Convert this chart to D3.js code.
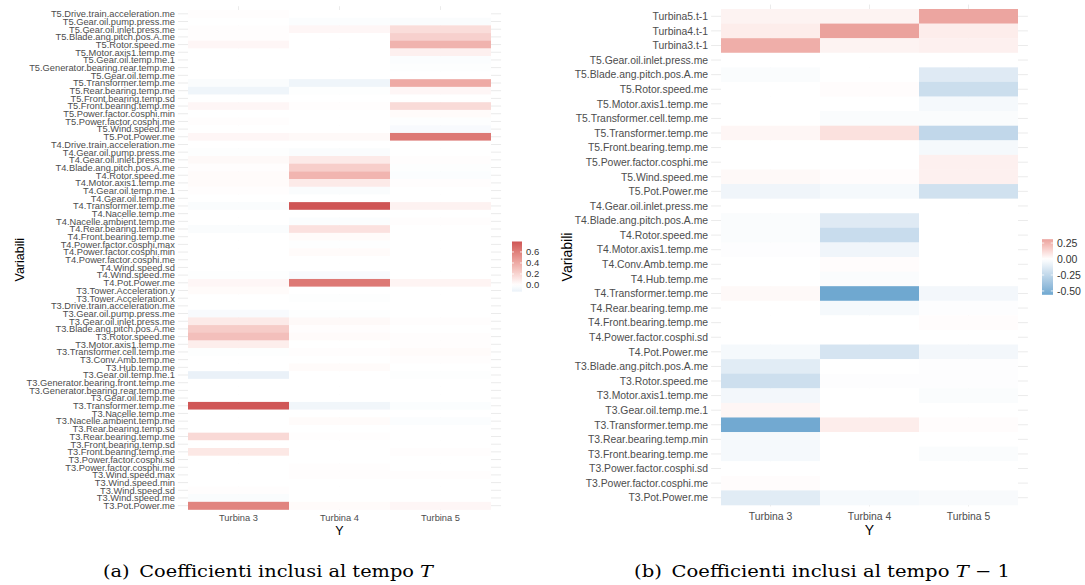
<!DOCTYPE html>
<html>
<head>
<meta charset="utf-8">
<script src="https://cdn.jsdelivr.net/npm/d3@7"></script>
<style>
  html, body { margin: 0; padding: 0; background: #ffffff; }
  svg { display: block; }
</style>
</head>
<body>
<svg id="chart" width="1085" height="585"></svg>
<script>
// Column categories (response turbines)
const turbines = ["Turbina 3", "Turbina 4", "Turbina 5"];

// ---- Panel (a): coefficients at time T ----
const varsT = [
  "T5.Drive.train.acceleration.me", "T5.Gear.oil.pump.press.me", "T5.Gear.oil.inlet.press.me",
  "T5.Blade.ang.pitch.pos.A.me", "T5.Rotor.speed.me", "T5.Motor.axis1.temp.me",
  "T5.Gear.oil.temp.me.1", "T5.Generator.bearing.rear.temp.me", "T5.Gear.oil.temp.me",
  "T5.Transformer.temp.me", "T5.Rear.bearing.temp.me", "T5.Front.bearing.temp.sd",
  "T5.Front.bearing.temp.me", "T5.Power.factor.cosphi.min", "T5.Power.factor.cosphi.me",
  "T5.Wind.speed.me", "T5.Pot.Power.me",
  "T4.Drive.train.acceleration.me", "T4.Gear.oil.pump.press.me", "T4.Gear.oil.inlet.press.me",
  "T4.Blade.ang.pitch.pos.A.me", "T4.Rotor.speed.me", "T4.Motor.axis1.temp.me",
  "T4.Gear.oil.temp.me.1", "T4.Gear.oil.temp.me", "T4.Transformer.temp.me",
  "T4.Nacelle.temp.me", "T4.Nacelle.ambient.temp.me", "T4.Rear.bearing.temp.me",
  "T4.Front.bearing.temp.me", "T4.Power.factor.cosphi.max", "T4.Power.factor.cosphi.min",
  "T4.Power.factor.cosphi.me", "T4.Wind.speed.sd", "T4.Wind.speed.me", "T4.Pot.Power.me",
  "T3.Tower.Acceleration.y", "T3.Tower.Acceleration.x", "T3.Drive.train.acceleration.me",
  "T3.Gear.oil.pump.press.me", "T3.Gear.oil.inlet.press.me", "T3.Blade.ang.pitch.pos.A.me",
  "T3.Rotor.speed.me", "T3.Motor.axis1.temp.me", "T3.Transformer.cell.temp.me",
  "T3.Conv.Amb.temp.me", "T3.Hub.temp.me", "T3.Gear.oil.temp.me.1",
  "T3.Generator.bearing.front.temp.me", "T3.Generator.bearing.rear.temp.me", "T3.Gear.oil.temp.me",
  "T3.Transformer.temp.me", "T3.Nacelle.temp.me", "T3.Nacelle.ambient.temp.me",
  "T3.Rear.bearing.temp.sd", "T3.Rear.bearing.temp.me", "T3.Front.bearing.temp.sd",
  "T3.Front.bearing.temp.me", "T3.Power.factor.cosphi.sd", "T3.Power.factor.cosphi.me",
  "T3.Wind.speed.max", "T3.Wind.speed.min", "T3.Wind.speed.sd", "T3.Wind.speed.me",
  "T3.Pot.Power.me"
];
const turbina3T = [
  0.01, 0.00, 0.01, 0.01, 0.04, 0.00, 0.00, 0.00, 0.00, -0.03, -0.09, 0.00, 0.04, 0.00, 0.01, 0.00, 0.04,
  0.00, -0.01, 0.03, 0.01, 0.02, 0.02, 0.01, 0.00, -0.03, 0.00, 0.00, -0.03, 0.00, 0.00, 0.00, 0.00, 0.00, -0.01, 0.04,
  0.02, 0.00, 0.00, -0.04, 0.10, 0.24, 0.30, 0.08, -0.01, 0.00, 0.00, -0.12, 0.00, 0.00, 0.00,
  0.78, 0.00, 0.00, 0.00, 0.18, 0.00, 0.11, 0.00, 0.00, 0.00, 0.00, 0.01, -0.03, 0.58
];
const turbina4T = [
  0.00, -0.02, 0.04, 0.00, 0.00, 0.00, 0.00, 0.00, 0.00, -0.09, -0.01, 0.00, 0.01, 0.00, 0.00, 0.00, 0.03,
  0.00, -0.03, 0.10, 0.23, 0.35, 0.10, -0.03, 0.00, 0.79, 0.00, -0.02, 0.14, 0.02, -0.01, 0.02, 0.00, 0.00, -0.04, 0.63,
  0.00, -0.01, 0.00, -0.01, 0.03, 0.01, 0.02, 0.00, 0.01, 0.00, 0.02, 0.00, 0.00, 0.00, 0.00,
  -0.08, 0.00, 0.02, 0.00, 0.01, 0.00, 0.00, 0.00, 0.01, 0.01, 0.00, 0.00, 0.00, 0.02
];
const turbina5T = [
  0.00, -0.03, 0.16, 0.22, 0.36, 0.07, -0.02, -0.01, 0.00, 0.40, 0.04, 0.00, 0.17, 0.02, -0.01, -0.04, 0.63,
  0.00, 0.00, 0.01, -0.01, -0.02, 0.01, 0.00, 0.00, 0.06, 0.00, 0.01, 0.00, 0.00, 0.00, 0.00, 0.00, 0.00, 0.00, 0.05,
  0.00, 0.00, 0.00, 0.00, 0.01, 0.00, 0.01, 0.01, 0.02, 0.01, 0.00, -0.01, 0.00, 0.00, 0.00,
  -0.02, 0.00, -0.02, 0.00, 0.00, 0.00, 0.01, 0.00, 0.00, 0.01, 0.00, 0.00, 0.00, 0.04
];
const legendBreaksT = [0.0, 0.2, 0.4, 0.6];

// ---- Panel (b): coefficients at time T-1 ----
const varsT1 = [
  "Turbina5.t-1", "Turbina4.t-1", "Turbina3.t-1",
  "T5.Gear.oil.inlet.press.me", "T5.Blade.ang.pitch.pos.A.me", "T5.Rotor.speed.me",
  "T5.Motor.axis1.temp.me", "T5.Transformer.cell.temp.me", "T5.Transformer.temp.me",
  "T5.Front.bearing.temp.me", "T5.Power.factor.cosphi.me", "T5.Wind.speed.me", "T5.Pot.Power.me",
  "T4.Gear.oil.inlet.press.me", "T4.Blade.ang.pitch.pos.A.me", "T4.Rotor.speed.me",
  "T4.Motor.axis1.temp.me", "T4.Conv.Amb.temp.me", "T4.Hub.temp.me", "T4.Transformer.temp.me",
  "T4.Rear.bearing.temp.me", "T4.Front.bearing.temp.me", "T4.Power.factor.cosphi.sd", "T4.Pot.Power.me",
  "T3.Blade.ang.pitch.pos.A.me", "T3.Rotor.speed.me", "T3.Motor.axis1.temp.me", "T3.Gear.oil.temp.me.1",
  "T3.Transformer.temp.me", "T3.Rear.bearing.temp.min", "T3.Front.bearing.temp.me",
  "T3.Power.factor.cosphi.sd", "T3.Power.factor.cosphi.me", "T3.Pot.Power.me"
];
const turbina3T1 = [
  0.04, 0.06, 0.27, 0.00, -0.02, 0.00, 0.00, 0.00, 0.03, 0.00, 0.00, 0.02, -0.06,
  0.00, -0.02, -0.02, -0.01, 0.00, 0.00, 0.02, 0.00, 0.00, 0.00, -0.04,
  -0.12, -0.20, -0.05, 0.03, -0.55, -0.04, -0.04, 0.00, 0.01, -0.12
];
const turbina4T1 = [
  0.04, 0.31, 0.04, 0.00, 0.00, 0.01, 0.00, -0.02, 0.10, 0.00, 0.00, 0.01, -0.04,
  0.00, -0.13, -0.22, -0.06, 0.01, -0.02, -0.56, -0.04, 0.00, 0.00, -0.17,
  0.00, -0.01, 0.00, 0.00, 0.06, 0.00, 0.00, 0.00, 0.00, -0.04
];
const turbina5T1 = [
  0.30, 0.06, 0.05, 0.00, -0.13, -0.21, -0.04, -0.02, -0.25, -0.04, 0.05, 0.05, -0.19,
  0.00, 0.00, 0.00, 0.00, 0.00, 0.00, -0.05, -0.01, 0.01, 0.00, -0.05,
  -0.01, -0.01, -0.02, 0.00, 0.01, 0.00, -0.02, 0.00, 0.00, -0.03
];
const legendBreaksT1 = [0.25, 0.00, -0.25, -0.50];

// ---- Shared styling ----
const lowColour = "#6FA8D0";
const highColour = "#CF5555";
const gridColour = "#EBEBEB";
const axisTextColour = "#4D4D4D";
const sansFont = "'Liberation Sans', Arial, sans-serif";

const svg = d3.select("#chart");

function drawHeatmap(cfg) {
  const g = svg.append("g");
  const series = [cfg.t3, cfg.t4, cfg.t5];
  const cells = [];
  cfg.rows.forEach((r, i) => {
    turbines.forEach((t, j) => cells.push({ row: r, col: t, value: series[j][i] }));
  });

  const x = d3.scaleBand().domain(turbines).range([cfg.x0, cfg.x1]);
  const y = d3.scaleBand().domain(cfg.rows).range([cfg.y0, cfg.y1]);

  const vmin = d3.min(cells, d => d.value);
  const vmax = d3.max(cells, d => d.value);
  const m = Math.max(Math.abs(vmin), Math.abs(vmax));
  const colour = d3.scaleLinear()
    .domain([-m, 0, m])
    .range([lowColour, "#ffffff", highColour])
    .interpolate(d3.interpolateLab);

  // grid lines (extend slightly past the tiles, as the panel does)
  const ex = x.bandwidth() * 0.1, ey = y.bandwidth() * 0.1;
  g.append("g").selectAll("line.h").data(cfg.rows).join("line")
    .attr("x1", cfg.x0 - ex).attr("x2", cfg.x1 + ex)
    .attr("y1", d => y(d) + y.bandwidth() / 2).attr("y2", d => y(d) + y.bandwidth() / 2)
    .attr("stroke", gridColour).attr("stroke-width", 1);
  g.append("g").selectAll("line.v").data(turbines).join("line")
    .attr("y1", cfg.y0 - ey - 3).attr("y2", cfg.y1 + ey)
    .attr("x1", d => x(d) + x.bandwidth() / 2).attr("x2", d => x(d) + x.bandwidth() / 2)
    .attr("stroke", gridColour).attr("stroke-width", 1);

  // tiles
  g.append("g").selectAll("rect").data(cells).join("rect")
    .attr("x", d => x(d.col))
    .attr("y", d => y(d.row))
    .attr("width", x.bandwidth())
    .attr("height", y.bandwidth() + 0.3)
    .attr("fill", d => colour(d.value));

  // y-axis labels
  g.append("g").selectAll("text").data(cfg.rows).join("text")
    .attr("x", cfg.x0 - ex - 3)
    .attr("y", d => y(d) + y.bandwidth() / 2)
    .attr("dy", "0.36em")
    .attr("text-anchor", "end")
    .attr("font-family", sansFont)
    .attr("font-size", cfg.labelSize)
    .attr("fill", axisTextColour)
    .text(d => d);

  // x-axis labels
  g.append("g").selectAll("text").data(turbines).join("text")
    .attr("x", d => x(d) + x.bandwidth() / 2)
    .attr("y", cfg.xLabelY)
    .attr("text-anchor", "middle")
    .attr("font-family", sansFont)
    .attr("font-size", cfg.labelSize)
    .attr("fill", axisTextColour)
    .text(d => d);

  // axis titles
  g.append("text")
    .attr("x", (cfg.x0 + cfg.x1) / 2)
    .attr("y", cfg.xTitleY)
    .attr("text-anchor", "middle")
    .attr("font-family", sansFont)
    .attr("font-size", cfg.titleSize)
    .attr("fill", "#000")
    .text("Y");
  g.append("text")
    .attr("transform", `translate(${cfg.yTitleX},${(cfg.y0 + cfg.y1) / 2}) rotate(-90)`)
    .attr("text-anchor", "middle")
    .attr("font-family", sansFont)
    .attr("font-size", cfg.titleSize)
    .attr("fill", "#000")
    .text("Variabili");

  // colour bar legend
  const L = cfg.legend;
  const ly = d3.scaleLinear().domain([vmin, vmax]).range([L.bottom, L.top]);
  const gradId = "grad-" + cfg.id;
  const grad = svg.append("defs").append("linearGradient")
    .attr("id", gradId).attr("x1", 0).attr("x2", 0).attr("y1", 1).attr("y2", 0);
  d3.range(0, 1.0001, 0.05).forEach(t => {
    grad.append("stop").attr("offset", t).attr("stop-color", colour(vmin + t * (vmax - vmin)));
  });
  const lg = g.append("g");
  lg.append("rect")
    .attr("x", L.x).attr("y", L.top)
    .attr("width", L.w).attr("height", L.bottom - L.top)
    .attr("fill", `url(#${gradId})`);
  lg.selectAll("line.tl").data(L.breaks).join("line")
    .attr("x1", L.x).attr("x2", L.x + L.w / 5)
    .attr("y1", d => ly(d)).attr("y2", d => ly(d))
    .attr("stroke", "#fff").attr("stroke-width", 0.8);
  lg.selectAll("line.tr").data(L.breaks).join("line")
    .attr("x1", L.x + L.w - L.w / 5).attr("x2", L.x + L.w)
    .attr("y1", d => ly(d)).attr("y2", d => ly(d))
    .attr("stroke", "#fff").attr("stroke-width", 0.8);
  lg.selectAll("text").data(L.breaks).join("text")
    .attr("x", L.x + L.w + 4)
    .attr("y", d => ly(d))
    .attr("dy", "0.36em")
    .attr("font-family", sansFont)
    .attr("font-size", L.size)
    .attr("fill", "#333")
    .text(d => d3.format(L.fmt)(d).replace("−", "-"));
}

drawHeatmap({
  id: "t", rows: varsT, t3: turbina3T, t4: turbina4T, t5: turbina5T,
  x0: 188, x1: 491, y0: 10, y1: 509.5,
  labelSize: 9.3, titleSize: 12.5,
  xLabelY: 521, xTitleY: 535, yTitleX: 24,
  legend: { x: 512, w: 10, top: 241.5, bottom: 291.6, breaks: legendBreaksT, size: 9.5, fmt: ".1f" }
});

drawHeatmap({
  id: "t1", rows: varsT1, t3: turbina3T1, t4: turbina4T1, t5: turbina5T1,
  x0: 721, x1: 1018, y0: 9, y1: 505,
  labelSize: 10.4, titleSize: 14,
  xLabelY: 520, xTitleY: 535, yTitleX: 572,
  legend: { x: 1042, w: 11, top: 239.2, bottom: 294.8, breaks: legendBreaksT1, size: 10.5, fmt: ".2f" }
});

// sub-figure captions, stretched to their set widths
const serif = "'DejaVu Serif', 'Liberation Serif', serif";
function caption(cx, width, parts) {
  const t = svg.append("text").attr("x", cx - width / 2).attr("y", 576.5)
    .attr("font-family", serif).attr("font-size", 16.5).attr("fill", "#000");
  parts.forEach(p => {
    const s = t.append("tspan").text(p.text);
    if (p.italic) s.attr("font-style", "italic");
  });
  t.attr("textLength", width).attr("lengthAdjust", "spacingAndGlyphs");
}
caption(268, 330, [{ text: "(a)\u2002Coefficienti inclusi al tempo " }, { text: "T", italic: true }]);
caption(822, 376, [{ text: "(b)\u2002Coefficienti inclusi al tempo " }, { text: "T", italic: true }, { text: " \u2212 1" }]);
</script>
</body>
</html>
